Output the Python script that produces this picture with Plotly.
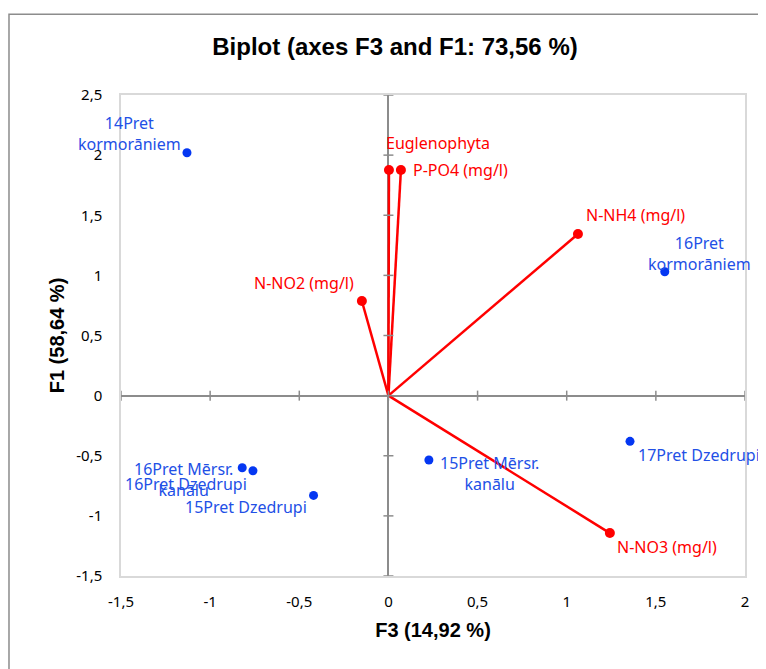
import plotly.graph_objects as go

# ---- data ----
obs_names = ["14Pret<br>kormorāniem", "16Pret<br>kormorāniem", "17Pret Dzedrupi",
             "15Pret Mērsr.<br>kanālu", "16Pret Mērsr.<br>kanālu", "16Pret Dzedrupi",
             "15Pret Dzedrupi"]
obs_f3 = [-1.13, 1.55, 1.355, 0.227, -0.82, -0.76, -0.42]
obs_f1 = [2.02, 1.03, -0.38, -0.535, -0.60, -0.625, -0.83]

var_names = ["Euglenophyta", "P-PO4 (mg/l)", "N-NH4 (mg/l)", "N-NO2 (mg/l)", "N-NO3 (mg/l)"]
var_f3 = [0.003, 0.07, 1.063, -0.149, 1.242]
var_f1 = [1.876, 1.876, 1.344, 0.787, -1.143]

x_ticks = [-1.5, -1, -0.5, 0, 0.5, 1, 1.5, 2]
x_tick_labels = ["-1,5", "-1", "-0,5", "0", "0,5", "1", "1,5", "2"]
y_ticks = [-1.5, -1, -0.5, 0, 0.5, 1, 1.5, 2, 2.5]
y_tick_labels = ["-1,5", "-1", "-0,5", "0", "0,5", "1", "1,5", "2", "2,5"]

# ---- styles ----
BLUE = "#0437F2"
BLUE_TXT = "#2250E6"
RED = "#FF0000"
LABEL_FONT = "Noto Sans"
LABEL_SIZE = 16
# label offsets (px): xshift, yshift, xanchor
obs_offsets = [(-57, 19, "center"), (35, 18, "center"), (6, -14, "left"),
               (61, -14, "center"), (-59, -12, "center"), (-67, -13, "center"),
               (-68, -12, "center")]
var_offsets = [(49, 27, "center"), (10, 0, "left"), (58, 19, "center"),
               (-58, 18, "center"), (57, -14, "center")]

fig = go.Figure()

for vx, vy in zip(var_f3, var_f1):
    fig.add_trace(go.Scatter(x=[0, vx], y=[0, vy], mode="lines",
                             line=dict(color=RED, width=2.5), showlegend=False,
                             hoverinfo="skip"))
fig.add_trace(go.Scatter(x=var_f3, y=var_f1, mode="markers",
                         marker=dict(color=RED, size=10), showlegend=False,
                         text=var_names))
fig.add_trace(go.Scatter(x=obs_f3, y=obs_f1, mode="markers",
                         marker=dict(color=BLUE, size=9), showlegend=False,
                         text=obs_names))

annotations = []
for name, x, y, (dx, dy, xa) in zip(obs_names, obs_f3, obs_f1, obs_offsets):
    annotations.append(dict(x=x, y=y, text=name, showarrow=False, xshift=dx, yshift=dy,
                            xanchor=xa, yanchor="middle", align="center",
                            font=dict(family=LABEL_FONT, size=LABEL_SIZE, color=BLUE_TXT)))
for name, x, y, (dx, dy, xa) in zip(var_names, var_f3, var_f1, var_offsets):
    annotations.append(dict(x=x, y=y, text=name, showarrow=False, xshift=dx, yshift=dy,
                            xanchor=xa, yanchor="middle", align="center",
                            font=dict(family=LABEL_FONT, size=LABEL_SIZE, color=RED)))

# tick marks crossing the zero axes
shapes = []
tx = 5 / 178.3
ty = 5 / 120.25
for yv in y_ticks:
    shapes.append(dict(type="line", xref="x", yref="y", x0=-tx, x1=tx, y0=yv, y1=yv,
                       line=dict(color="#8c8c8c", width=1.5)))
for xv in x_ticks:
    shapes.append(dict(type="line", xref="x", yref="y", x0=xv, x1=xv, y0=-ty, y1=ty,
                       line=dict(color="#8c8c8c", width=1.5)))
# outer chart border
shapes.append(dict(type="rect", xref="paper", yref="paper", x0=-0.1795, x1=1.3,
                   y0=-0.4, y1=1.168, line=dict(color="#8c8c8c", width=1.5),
                   layer="below"))

fig.update_layout(
    width=766, height=669,
    margin=dict(l=113, r=29, t=87, b=101),
    paper_bgcolor="white", plot_bgcolor="white",
    title=dict(text="<b>Biplot (axes F3 and F1: 73,56 %)</b>", x=387 / 766,
               xanchor="center", y=1 - 39 / 669, yanchor="middle",
               font=dict(family="Liberation Sans", size=24, color="black")),
    xaxis=dict(range=[-1.5, 2], tickvals=x_ticks, ticktext=x_tick_labels,
               showgrid=False, zeroline=True, zerolinecolor="#8c8c8c", zerolinewidth=2,
               showline=True, linecolor="#d9d9d9", linewidth=1.5, mirror=True,
               ticks="outside", ticklen=11, tickcolor="rgba(0,0,0,0)",
               tickfont=dict(family=LABEL_FONT, size=15, color="black"),
               title=dict(text="<b>F3 (14,92 %)</b>", standoff=13,
                          font=dict(family="Liberation Sans", size=20, color="black"))),
    yaxis=dict(range=[-1.5, 2.5], tickvals=y_ticks, ticktext=y_tick_labels,
               showgrid=False, zeroline=True, zerolinecolor="#8c8c8c", zerolinewidth=2,
               showline=True, linecolor="#d9d9d9", linewidth=1.5, mirror=True,
               ticks="outside", ticklen=14, tickcolor="rgba(0,0,0,0)",
               tickfont=dict(family=LABEL_FONT, size=15, color="black"),
               title=dict(text="<b>F1 (58,64 %)</b>", standoff=6,
                          font=dict(family="Liberation Sans", size=20, color="black"))),
    annotations=annotations,
    shapes=shapes,
    showlegend=False,
)

fig.write_html("out.html")
